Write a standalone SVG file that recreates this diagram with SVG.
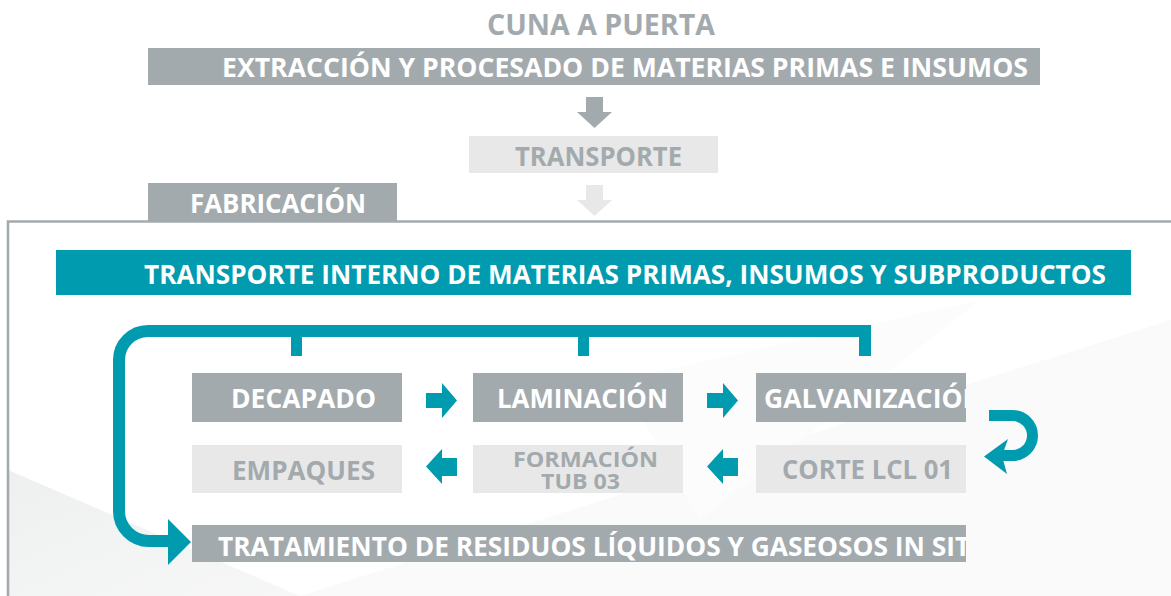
<svg xmlns="http://www.w3.org/2000/svg" width="1171" height="596" viewBox="0 0 1171 596">
  <style>
    .t { font-family: "Open Sans", "Liberation Sans", sans-serif; font-weight: 700; }
    .w { fill: #ffffff; }
    .g { fill: #a3aaae; }
    .dark { fill: #a3aaae; }
    .light { fill: #e8e8e8; }
    .teal { fill: #009bae; }
    .conn { fill: none; stroke: #009bae; }
  </style>
  <defs>
    <clipPath id="clipGalv"><rect x="756" y="373" width="210" height="49"/></clipPath>
    <clipPath id="clipTrat"><rect x="192" y="525" width="774" height="37"/></clipPath>
    <linearGradient id="bgA" x1="0" y1="0" x2="1" y2="1">
      <stop offset="0" stop-color="#eef0f0"/>
      <stop offset="1" stop-color="#f7f7f7"/>
    </linearGradient>
  </defs>

  <rect x="0" y="0" width="1171" height="596" fill="#ffffff"/>

  <!-- subtle background shading -->
  <polygon points="8,470 300,596 8,596" fill="url(#bgA)"/>
  <polygon points="300,596 1171,320 1171,596" fill="#fafafa"/>
  <polygon points="620,380 980,300 700,520" fill="#fcfcfc"/>

  <!-- frame -->
  <polyline points="1171,221.5 8,221.5 8,596" fill="none" stroke="#a3aaae" stroke-width="2.6"/>

  <!-- top section -->
  <g id="cuna">
    <text class="t g" x="487" y="35" font-size="28" textLength="228" lengthAdjust="spacingAndGlyphs">CUNA A PUERTA</text>
  </g>
  <g id="extraccion">
    <rect class="dark" x="148" y="48" width="892" height="37"/>
    <text class="t w" x="222" y="77" font-size="26" textLength="806" lengthAdjust="spacingAndGlyphs">EXTRACCIÓN Y PROCESADO DE MATERIAS PRIMAS E INSUMOS</text>
  </g>
  <g id="transporte">
    <rect class="light" x="469" y="136" width="249" height="37"/>
    <text class="t g" x="515" y="166" font-size="27" textLength="167" lengthAdjust="spacingAndGlyphs">TRANSPORTE</text>
  </g>
  <g id="fabricacion">
    <rect class="dark" x="148" y="183" width="249" height="38"/>
    <text class="t w" x="190" y="213" font-size="27" textLength="176" lengthAdjust="spacingAndGlyphs">FABRICACIÓN</text>
  </g>
  <g id="transporte-interno">
    <rect class="teal" x="56" y="250" width="1075" height="45"/>
    <text class="t w" x="144" y="283.5" font-size="27" textLength="962" lengthAdjust="spacingAndGlyphs">TRANSPORTE INTERNO DE MATERIAS PRIMAS, INSUMOS Y SUBPRODUCTOS</text>
  </g>

  <!-- process nodes -->
  <g id="decapado">
    <rect class="dark" x="192" y="373" width="210" height="49"/>
    <text class="t w" x="231" y="407.5" font-size="27" textLength="145" lengthAdjust="spacingAndGlyphs">DECAPADO</text>
  </g>
  <g id="laminacion">
    <rect class="dark" x="473" y="373" width="210" height="49"/>
    <text class="t w" x="497" y="407.5" font-size="27" textLength="171" lengthAdjust="spacingAndGlyphs">LAMINACIÓN</text>
  </g>
  <g id="galvanizacion">
    <rect class="dark" x="756" y="373" width="210" height="49"/>
    <text class="t w" x="764" y="407.5" font-size="27" textLength="220" lengthAdjust="spacingAndGlyphs" clip-path="url(#clipGalv)">GALVANIZACIÓN</text>
  </g>
  <g id="empaques">
    <rect class="light" x="192" y="445" width="210" height="48"/>
    <text class="t g" x="232" y="480" font-size="27" textLength="143" lengthAdjust="spacingAndGlyphs">EMPAQUES</text>
  </g>
  <g id="formacion">
    <rect class="light" x="473" y="445" width="210" height="48"/>
    <text class="t g" x="513" y="466.5" font-size="21" textLength="145" lengthAdjust="spacingAndGlyphs">FORMACIÓN</text>
    <text class="t g" x="541" y="489" font-size="21" textLength="79" lengthAdjust="spacingAndGlyphs">TUB 03</text>
  </g>
  <g id="corte">
    <rect class="light" x="756" y="445" width="210" height="48"/>
    <text class="t g" x="782" y="479" font-size="27" textLength="171" lengthAdjust="spacingAndGlyphs">CORTE LCL 01</text>
  </g>
  <g id="tratamiento">
    <rect class="dark" x="192" y="525" width="774" height="37"/>
    <text class="t w" x="218" y="555.5" font-size="26" textLength="772" lengthAdjust="spacingAndGlyphs" clip-path="url(#clipTrat)">TRATAMIENTO DE RESIDUOS LÍQUIDOS Y GASEOSOS IN SITU</text>
  </g>

  <!-- connectors -->
  <g id="connectors">
    <!-- top gray arrows -->
    <polygon class="dark" points="586,97 603,97 603,112 612,112 594.5,128 577,112 586,112"/>
    <polygon class="light" points="586,185 603,185 603,200 612,200 594.5,216 577,200 586,200"/>

    <!-- loop from transporte interno -->
    <path class="conn" stroke-width="12" d="M865 356 V331 H148 A29 29 0 0 0 119 360 V511 A30 30 0 0 0 149 541 H172"/>
    <line class="conn" stroke-width="11" x1="296.5" y1="331" x2="296.5" y2="356"/>
    <line class="conn" stroke-width="11" x1="583.5" y1="331" x2="583.5" y2="356"/>
    <polygon class="teal" points="168,519 191,542 168,565"/>

    <!-- right arrows row 1 -->
    <polygon class="teal" points="426,393 442,393 442,383 457,400.5 442,418 442,408 426,408"/>
    <polygon class="teal" points="707,393 723,393 723,383 738,400.5 723,418 723,408 707,408"/>

    <!-- left arrows row 2 -->
    <polygon class="teal" points="457,458 442,458 442,449 426,466.5 442,484 442,476 457,476"/>
    <polygon class="teal" points="738,458 723,458 723,449 707,466.5 723,484 723,476 738,476"/>

    <!-- U-turn arrow -->
    <path class="conn" stroke-width="11" d="M989 415.5 H1012.5 A20 20 0 0 1 1012.5 455.5 H1000"/>
    <polygon class="teal" points="1008,439 1002,456 1007,474 984,456.5"/>
  </g>
</svg>
